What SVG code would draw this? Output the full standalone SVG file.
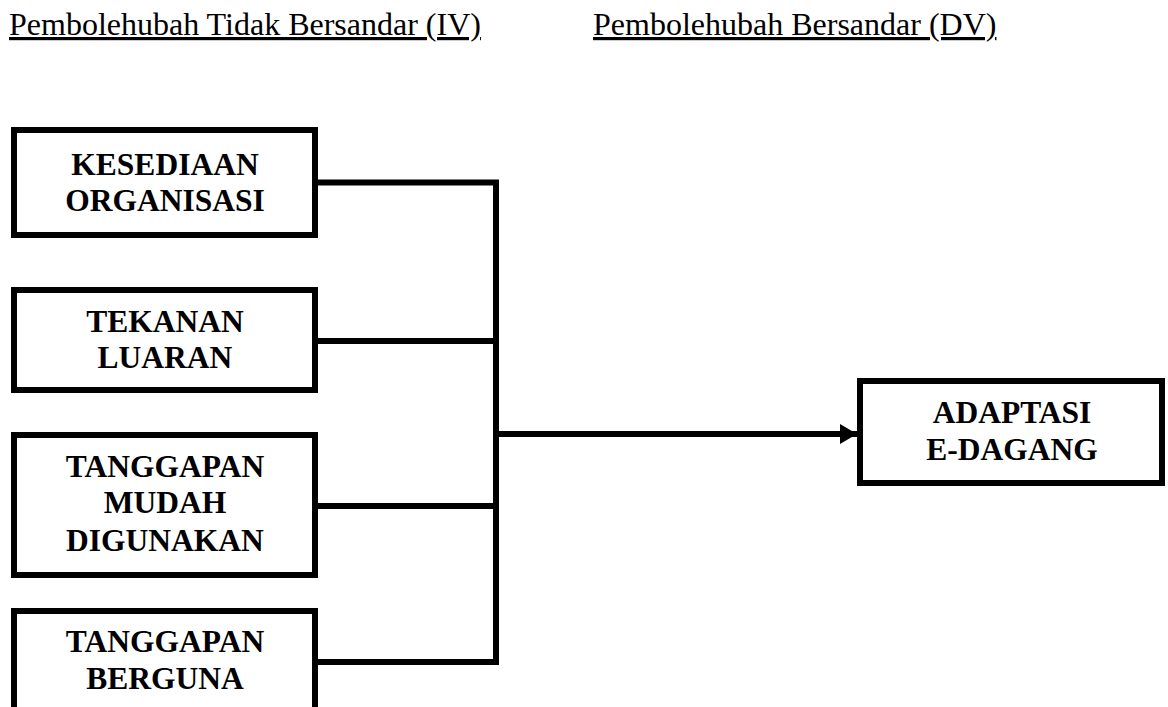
<svg xmlns="http://www.w3.org/2000/svg" width="1168" height="707" viewBox="0 0 1168 707">
<style>
.box{fill:#fff;stroke:#000;stroke-width:6}
.lbl{font-family:"Liberation Serif","Times New Roman",serif;font-weight:bold;font-size:31.5px;text-anchor:middle;fill:#000}
.hdr{font-family:"Liberation Serif","Times New Roman",serif;font-size:32px;fill:#000;text-decoration:underline}
.con{fill:none;stroke:#000;stroke-width:6}
</style>
<defs>
<marker id="ah" markerWidth="17" markerHeight="20" refX="17" refY="10" orient="auto" markerUnits="userSpaceOnUse">
<path d="M0,0 L17,10 L0,20 Z" fill="#000"/>
</marker>
</defs>
<text class="hdr" x="9" y="35">Pembolehubah Tidak Bersandar (IV)</text>
<text class="hdr" x="593" y="35">Pembolehubah Bersandar (DV)</text>
<g id="connectors">
<path class="con" d="M318,182.5 H496 M318,341 H496 M318,506 H496 M318,662 H496 M496,179.5 V665"/>
<path class="con" d="M496,434 H857" marker-end="url(#ah)"/>
</g>
<g id="n1"><rect class="box" x="14" y="130" width="301" height="105"/>
<text class="lbl" x="165" y="175">KESEDIAAN</text><text class="lbl" x="165" y="211">ORGANISASI</text></g>
<g id="n2"><rect class="box" x="14" y="290" width="301" height="100"/>
<text class="lbl" x="165" y="332">TEKANAN</text><text class="lbl" x="165" y="368">LUARAN</text></g>
<g id="n3"><rect class="box" x="14" y="435" width="301" height="140"/>
<text class="lbl" x="165" y="477">TANGGAPAN</text><text class="lbl" x="165" y="513">MUDAH</text><text class="lbl" x="165" y="551">DIGUNAKAN</text></g>
<g id="n4"><rect class="box" x="14" y="611" width="301" height="110"/>
<text class="lbl" x="165" y="652">TANGGAPAN</text><text class="lbl" x="165" y="689">BERGUNA</text></g>
<g id="n5"><rect class="box" x="860" y="381" width="302" height="102"/>
<text class="lbl" x="1012" y="423">ADAPTASI</text><text class="lbl" x="1012" y="460">E-DAGANG</text></g>
</svg>
